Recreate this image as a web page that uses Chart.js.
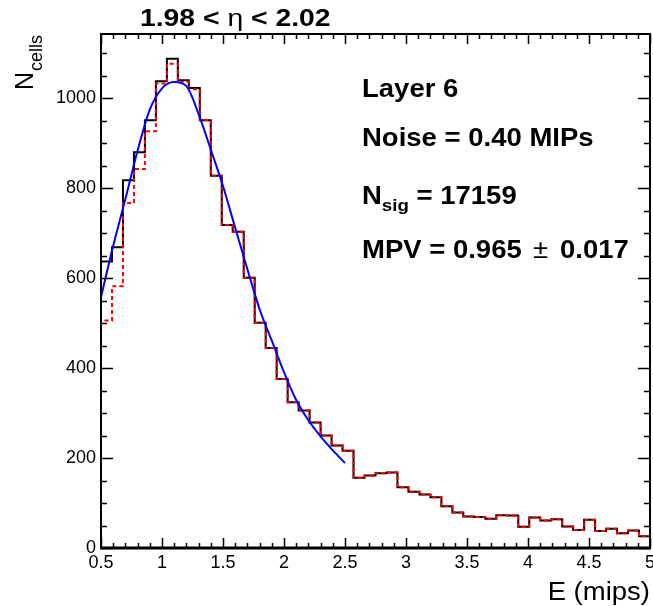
<!DOCTYPE html>
<html>
<head>
<meta charset="utf-8">
<script src="https://cdn.jsdelivr.net/npm/chart.js@4/dist/chart.umd.min.js"></script>
<style>
  html, body { margin: 0; padding: 0; background: #fff; }
  #wrap { position: relative; width: 653px; height: 606px; }
</style>
</head>
<body>
<div id="wrap"><canvas id="c" width="653" height="606"></canvas></div>
<script>
// ---- data ----
const binLow = 0.5;
const binWidth = 0.09;
const blackCounts = [637, 669, 818, 880, 951, 1038, 1088, 1040, 1023, 951,
                     828, 718, 703, 601, 501, 445, 376, 324, 306, 279,
                     250, 228, 216, 156, 161, 166, 168, 135, 125, 119,
                     113, 93, 79, 70, 69, 65, 73, 72, 47, 68,
                     61, 64, 48, 40, 63, 38, 43, 33, 39, 26];
const redCounts   = [506, 582, 767, 843, 927, 1033, 1077, 1037, 1020, 951,
                     828, 718, 703, 601, 501, 445, 376, 324, 306, 279,
                     250, 228, 216, 156, 161, 166, 168, 135, 125, 119,
                     113, 93, 79, 70, 69, 65, 73, 72, 47, 68,
                     61, 64, 48, 40, 63, 38, 43, 33, 39, 26];
const fitX = [0.5, 0.6, 0.7, 0.8, 0.9, 1.0, 1.1, 1.2, 1.3, 1.4, 1.5,
              1.6, 1.7, 1.8, 1.9, 2.0, 2.1, 2.2, 2.3, 2.4, 2.5];
const fitY = [558, 672, 776, 884, 975, 1022, 1036, 1027, 965, 886, 805,
              712, 620, 531, 461, 391, 329, 284, 248, 217, 189];
const xTicks = [0.5, 1, 1.5, 2, 2.5, 3, 3.5, 4, 4.5, 5];
const yTicks = [0, 200, 400, 600, 800, 1000];
const xMinorStep = 0.1;
const yMinorStep = 50;
const xRange = [0.5, 5];
const yRange = [0, 1143];

function stepPoints(counts) {
  const pts = [{x: binLow, y: 0}];
  counts.forEach((c, i) => pts.push({x: binLow + i * binWidth, y: c}));
  const end = binLow + counts.length * binWidth;
  pts.push({x: end, y: counts[counts.length - 1]});
  pts.push({x: end, y: 0});
  return pts;
}

const FONT = '"Liberation Sans", Arial, Helvetica, sans-serif';

// draw text with a horizontal stretch factor; returns advance width in px
function txt(ctx, s, x, y, font, sx) {
  ctx.save();
  ctx.font = font;
  ctx.translate(x, y);
  ctx.scale(sx, 1);
  ctx.fillText(s, 0, 0);
  const w = ctx.measureText(s).width * sx;
  ctx.restore();
  return w;
}

const decor = {
  id: 'decor',
  afterDatasetsDraw(chart) {
    const ctx = chart.ctx;
    const a = chart.chartArea;
    const xs = chart.scales.x, ys = chart.scales.y;
    ctx.save();
    ctx.strokeStyle = '#000';
    // frame
    ctx.lineWidth = 2;
    ctx.strokeRect(a.left, a.top, a.right - a.left, a.bottom - a.top);
    ctx.lineWidth = 3;
    ctx.beginPath();
    ctx.moveTo(a.left - 1, a.bottom); ctx.lineTo(a.right + 1, a.bottom);
    ctx.stroke();
    // ticks
    ctx.lineWidth = 1.5;
    ctx.beginPath();
    const nx = Math.round((xRange[1] - xRange[0]) / xMinorStep);
    for (let i = 0; i <= nx; i++) {
      const v = xRange[0] + i * xMinorStep;
      const px = Math.round(xs.getPixelForValue(v)) + 0.5;
      const major = xTicks.some(t => Math.abs(t - v) < 1e-6);
      const L = major ? 10 : 5;
      ctx.moveTo(px, a.bottom); ctx.lineTo(px, a.bottom - L);
      ctx.moveTo(px, a.top); ctx.lineTo(px, a.top + L);
    }
    for (let v = yRange[0]; v <= yRange[1]; v += yMinorStep) {
      const py = Math.round(ys.getPixelForValue(v)) + 0.5;
      const major = yTicks.includes(v);
      const L = major ? 12 : 6;
      ctx.moveTo(a.left, py); ctx.lineTo(a.left + L, py);
      ctx.moveTo(a.right, py); ctx.lineTo(a.right - L, py);
    }
    ctx.stroke();

    ctx.fillStyle = '#000';
    ctx.textBaseline = 'alphabetic';
    ctx.textAlign = 'left';
    // title
    const TB = 'bold 24px ' + FONT, TN = '24px ' + FONT, TS = 1.18;
    let x = 140;
    const ty = 26;
    x += txt(ctx, '1.98 < ', x, ty, TB, TS);
    x += txt(ctx, '\u03B7', x, ty, TN, TS);
    txt(ctx, ' < 2.02', x, ty, TB, TS);

    // annotations
    const AB = 'bold 25px ' + FONT, AN = '25px ' + FONT, AS = 1.1;
    txt(ctx, 'Layer 6', 362, 97, AB, AS);
    txt(ctx, 'Noise = 0.40 MIPs', 362, 146, AB, AS);
    let n = 362;
    n += txt(ctx, 'N', n, 204, AB, AS);
    n += txt(ctx, 'sig', n, 211, 'bold 17px ' + FONT, AS);
    txt(ctx, ' = 17159', n, 204, AB, AS);
    txt(ctx, 'MPV = 0.965', 362, 258, AB, AS);
    txt(ctx, '\u00B1', 533, 258, AN, AS);
    txt(ctx, '0.017', 560, 258, AB, AS);

    // x title (right-aligned at 650)
    ctx.save();
    ctx.font = '25px ' + FONT;
    const wE = ctx.measureText('E (mips)').width * 1.1;
    ctx.restore();
    txt(ctx, 'E (mips)', 650 - wE, 600, '25px ' + FONT, 1.1);

    // y title
    ctx.save();
    ctx.translate(33, 90);
    ctx.rotate(-Math.PI / 2);
    ctx.textAlign = 'left';
    ctx.font = '25px ' + FONT;
    ctx.fillText('N', 0, 0);
    const wN = ctx.measureText('N').width;
    ctx.font = '18px ' + FONT;
    ctx.fillText('cells', wN + 1, 9);
    ctx.restore();
    ctx.restore();
  }
};

new Chart(document.getElementById('c'), {
  type: 'line',
  data: {
    datasets: [
      { label: 'fit', data: fitX.map((v, i) => ({x: v, y: fitY[i]})),
        borderColor: '#0000ff', borderWidth: 2, pointRadius: 0,
        cubicInterpolationMode: 'monotone', fill: false, order: 1, clip: false },
      { label: 'red', data: stepPoints(redCounts), stepped: 'before',
        borderColor: '#ff0000', borderWidth: 2, borderDash: [4, 3], pointRadius: 0,
        fill: false, order: 2, clip: false },
      { label: 'black', data: stepPoints(blackCounts), stepped: 'before',
        borderColor: '#000000', borderWidth: 2, pointRadius: 0,
        fill: false, order: 3, clip: false }
    ]
  },
  options: {
    responsive: false,
    animation: false,
    events: [],
    layout: { padding: { left: 0, right: 3, top: 34, bottom: 0 } },
    plugins: { legend: { display: false }, tooltip: { enabled: false }, title: { display: false } },
    scales: {
      x: {
        type: 'linear', min: xRange[0], max: xRange[1],
        afterBuildTicks: s => { s.ticks = xTicks.map(v => ({value: v})); },
        afterFit: s => { s.height = 58; s.paddingLeft = 0; s.paddingRight = 0; },
        grid: { display: false, drawTicks: false },
        border: { display: false },
        ticks: { color: '#000', font: { family: FONT, size: 18 }, padding: 4,
                 maxRotation: 0, autoSkip: false, callback: v => String(v) }
      },
      y: {
        type: 'linear', min: yRange[0], max: yRange[1],
        afterBuildTicks: s => { s.ticks = yTicks.map(v => ({value: v})); },
        afterFit: s => { s.width = 101; s.paddingTop = 0; s.paddingBottom = 0; },
        grid: { display: false, drawTicks: false },
        border: { display: false },
        ticks: { color: '#000', font: { family: FONT, size: 18 }, padding: 5,
                 autoSkip: false, callback: v => String(v) }
      }
    }
  },
  plugins: [decor]
});
</script>
</body>
</html>
